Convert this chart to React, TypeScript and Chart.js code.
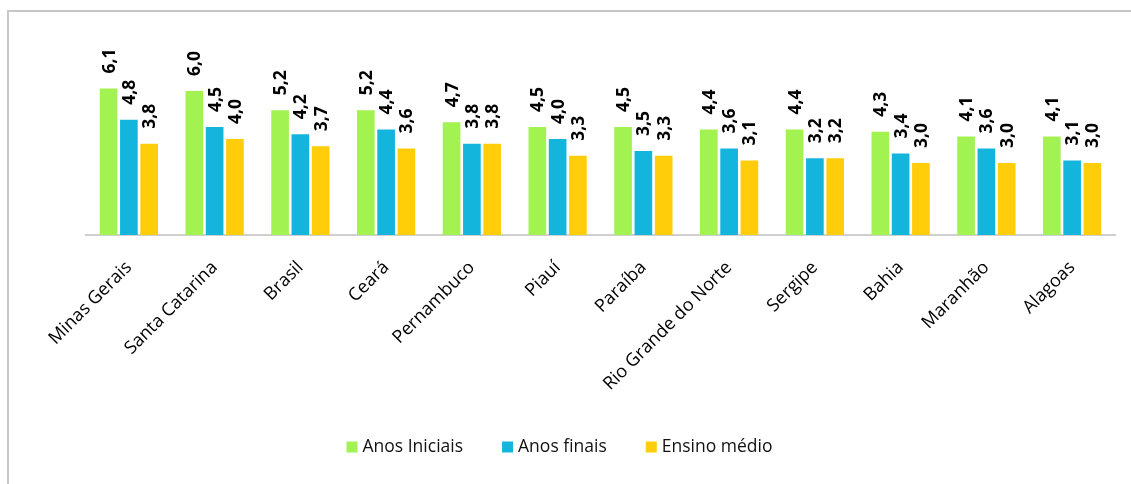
import React, { useEffect, useRef } from "react";
import { Chart, registerables } from "chart.js";

Chart.register(...registerables);

const categories = [
  "Minas Gerais",
  "Santa Catarina",
  "Brasil",
  "Ceará",
  "Pernambuco",
  "Piauí",
  "Paraíba",
  "Rio Grande do Norte",
  "Sergipe",
  "Bahia",
  "Maranhão",
  "Alagoas",
];
const anosIniciais = [6.1, 6.0, 5.2, 5.2, 4.7, 4.5, 4.5, 4.4, 4.4, 4.3, 4.1, 4.1];
const anosFinais = [4.8, 4.5, 4.2, 4.4, 3.8, 4.0, 3.5, 3.6, 3.2, 3.4, 3.6, 3.1];
const ensinoMedio = [3.8, 4.0, 3.7, 3.6, 3.8, 3.3, 3.3, 3.1, 3.2, 3.0, 3.0, 3.0];
const seriesNames = ["Anos Iniciais", "Anos finais", "Ensino médio"];
const seriesColors = ["#A2F251", "#14B5DD", "#FFCD0A"];

const FONT = "'Open Sans', 'Noto Sans', sans-serif";

const valueLabels = {
  id: "valueLabels",
  afterDatasetsDraw(chart: any) {
    const ctx = chart.ctx;
    ctx.save();
    ctx.fillStyle = "#000";
    ctx.font = `bold 17.5px ${FONT}`;
    chart.data.datasets.forEach((ds: any, i: number) => {
      const meta = chart.getDatasetMeta(i);
      meta.data.forEach((el: any, j: number) => {
        const v = ds.data[j] as number;
        ctx.save();
        ctx.translate(el.x + 1, el.y - 15);
        ctx.rotate(-Math.PI / 2);
        ctx.textAlign = "left";
        ctx.textBaseline = "middle";
        ctx.fillText(v.toFixed(1).replace(".", ","), 0, 0);
        ctx.restore();
      });
    });
    ctx.restore();
  },
};

const bottomLegend = {
  id: "bottomLegend",
  afterDraw(chart: any) {
    const ctx = chart.ctx;
    const box = 11;
    const gapText = 5;
    const gapItem = 39;
    const cx = 559.5;
    const cy = 447;
    ctx.save();
    ctx.font = `17.5px ${FONT}`;
    ctx.textBaseline = "middle";
    ctx.textAlign = "left";
    const widths = seriesNames.map((n) => ctx.measureText(n).width);
    const total =
      widths.reduce((a, w) => a + box + gapText + w, 0) + gapItem * (seriesNames.length - 1);
    let x = cx - total / 2;
    seriesNames.forEach((n, i) => {
      ctx.fillStyle = seriesColors[i];
      ctx.fillRect(x, cy - box / 2, box, box);
      ctx.fillStyle = "#111";
      ctx.fillText(n, x + box + gapText, cy);
      x += box + gapText + widths[i] + gapItem;
    });
    ctx.restore();
  },
};

export default function App() {
  const ref = useRef<HTMLCanvasElement | null>(null);
  useEffect(() => {
    if (!ref.current) return;
    const data = [anosIniciais, anosFinais, ensinoMedio];
    const chart = new Chart(ref.current, {
      type: "bar",
      data: {
        labels: categories,
        datasets: data.map((d, i) => ({
          label: seriesNames[i],
          data: d,
          backgroundColor: seriesColors[i],
          borderWidth: 0,
          categoryPercentage: 0.71,
          barPercentage: 0.87,
        })),
      },
      options: {
        animation: false,
        responsive: false,
        maintainAspectRatio: false,
        layout: { padding: { left: 86, right: 16, top: 67, bottom: 0 } },
        plugins: {
          tooltip: { enabled: false },
          legend: { display: false },
        },
        scales: {
          x: {
            grid: { display: false, drawTicks: false },
            border: { display: true, color: "#cfcfcf", width: 2 },
            ticks: {
              color: "#000",
              font: { family: FONT, size: 18 },
              minRotation: 45,
              maxRotation: 45,
              autoSkip: false,
              padding: 22,
            },
            afterFit: (scale: any) => {
              scale.height = 249;
            },
          },
          y: {
            display: false,
            min: 0,
            max: 7,
          },
        },
      },
      plugins: [valueLabels, bottomLegend],
    });
    return () => chart.destroy();
  }, []);

  return (
    <div style={{ position: "fixed", left: 0, top: 0, width: 1131, height: 484, overflow: "hidden", background: "#fff" }}>
      <div
        style={{
          position: "absolute",
          left: 7,
          top: 10,
          width: 1300,
          height: 700,
          border: "2px solid #c6c6c6",
        }}
      />
      <canvas ref={ref} width={1131} height={484} style={{ position: "absolute", left: 0, top: 0 }} />
    </div>
  );
}
